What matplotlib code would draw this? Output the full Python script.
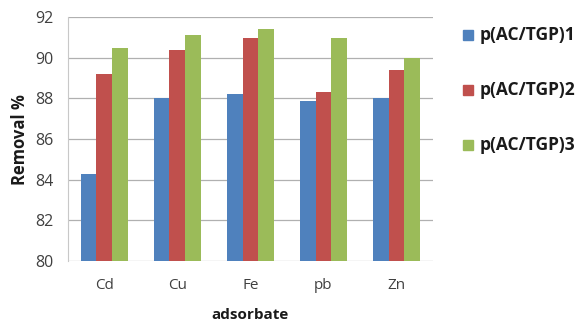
import matplotlib.pyplot as plt
import numpy as np

plt.rcParams['font.family'] = ['Open Sans', 'DejaVu Sans']

# data
metals = ['Cd', 'Cu', 'Fe', 'pb', 'Zn']
series_names = ['p(AC/TGP)1', 'p(AC/TGP)2', 'p(AC/TGP)3']
s1 = [84.3, 88.0, 88.2, 87.9, 88.0]
s2 = [89.2, 90.4, 91.0, 88.3, 89.4]
s3 = [90.5, 91.1, 91.4, 91.0, 90.0]
colors = ['#4F81BD', '#C0504D', '#9BBB59']

fig = plt.figure(figsize=(5.79, 3.24), dpi=100)
ax = fig.add_axes([0.117, 0.194, 0.631, 0.753])

x = np.arange(len(metals))
w = 0.215
for i, vals in enumerate([s1, s2, s3]):
    ax.bar(x + (i - 1) * w, vals, w, color=colors[i], zorder=2)

ax.set_ylim(80, 92)
ax.set_yticks(range(80, 93, 2))
ax.set_xlim(-0.5, len(metals) - 0.5)
ax.set_xticks(x)
ax.set_xticklabels(metals)
ax.yaxis.grid(True, color='#b0b0b0', linewidth=0.9, zorder=0)
for s in ['top', 'right', 'bottom']:
    ax.spines[s].set_visible(False)
ax.spines['left'].set_color('#c8c8c8')
ax.tick_params(axis='y', length=0, pad=10, labelsize=11.5, labelcolor='#404040')
ax.tick_params(axis='x', length=0, labelsize=11, labelcolor='#404040', pad=12)
ax.set_ylabel('Removal %', fontsize=12, fontweight='bold', color='#1a1a1a', labelpad=5)
ax.set_xlabel('adsorbate', fontsize=11, fontweight='bold', color='#1a1a1a', labelpad=11)

# legend, cut off at the right edge like the reference
ys = [0.892, 0.722, 0.553]
for i, name in enumerate(series_names):
    fig.patches.append(plt.Rectangle((0.800, ys[i] - 0.015), 0.017, 0.031,
                                     transform=fig.transFigure, color=colors[i]))
    fig.text(0.829, ys[i], name, fontsize=12.5, fontweight='bold',
             color='#1a1a1a', va='center')

fig.savefig('out.png', dpi=100)
